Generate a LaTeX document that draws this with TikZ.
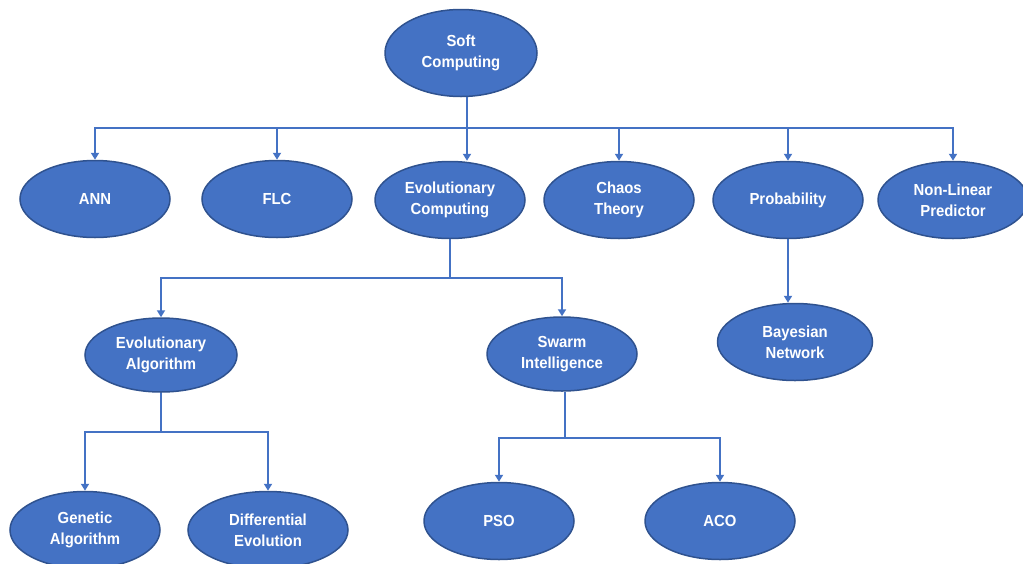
\documentclass[tikz,border=0pt]{standalone}
\usepackage{fontspec}
\setmainfont{Liberation Sans}[FakeStretch=0.93]
\usetikzlibrary{shapes.geometric,arrows.meta}
\definecolor{nodeblue}{RGB}{68,114,196}
\definecolor{edgeblue}{RGB}{47,82,143}
\begin{document}
\begin{tikzpicture}[x=1pt,y=-1pt,
	ell/.style = {ellipse, draw=edgeblue, line width=1.5pt, fill=nodeblue, text=white,
		inner sep=0pt, minimum width=150pt, minimum height=77pt, align=center,
		font=\bfseries\fontsize{16}{21}\selectfont},
	link/.style = {draw=nodeblue, line width=2.5pt},
	>={Triangle[length=7pt,width=8pt]}]
	\useasboundingbox (0,0) rectangle (1023,563);
	% top
	\node [ell, minimum width=152pt, minimum height=87pt] (soft) at (461,53) {Soft\\Computing};
	% first row
	\node [ell] (ann) at (95,199) {ANN};
	\node [ell] (flc) at (277,199) {FLC};
	\node [ell] (evc) at (450,200) {Evolutionary\\Computing};
	\node [ell] (chaos) at (619,200) {Chaos\\Theory};
	\node [ell] (prob) at (788,200) {Probability};
	\node [ell] (nlp) at (953,200) {Non-Linear\\Predictor};
	% second row
	\node [ell, minimum width=152pt, minimum height=74pt] (ea) at (161,355) {Evolutionary\\Algorithm};
	\node [ell, minimum height=74pt] (swarm) at (562,354) {Swarm\\Intelligence};
	\node [ell, minimum width=155pt] (bayes) at (795,342) {Bayesian\\Network};
	% third row
	\node [ell] (ga) at (85,530) {Genetic\\Algorithm};
	\node [ell, minimum width=160pt] (de) at (268,530) {Differential\\Evolution};
	\node [ell] (pso) at (499,521) {PSO};
	\node [ell] (aco) at (720,521) {ACO};
	% junctions
	\coordinate (j1) at (467,128);
	\coordinate (j2) at (evc.south |- 0,278);
	\coordinate (j3) at (ea.south |- 0,432);
	\coordinate (j4) at (565,438);
	\draw [link] (soft.south -| j1) -- (j1);
	\foreach \n in {ann,flc,chaos,prob,nlp}
		\draw [link,->] (j1) -| (\n.north);
	\draw [link,->] (j1) -- (j1 |- evc.north);
	\draw [link] (evc.south) -- (j2);
	\draw [link,->] (j2) -| (ea.north);
	\draw [link,->] (j2) -| (swarm.north);
	\draw [link,->] (prob.south) -- (prob.south |- bayes.north);
	\draw [link] (ea.south) -- (j3);
	\draw [link,->] (j3) -| (ga.north);
	\draw [link,->] (j3) -| (de.north);
	\draw [link] (swarm.south -| j4) -- (j4);
	\draw [link,->] (j4) -| (pso.north);
	\draw [link,->] (j4) -| (aco.north);
\end{tikzpicture}
\end{document}
